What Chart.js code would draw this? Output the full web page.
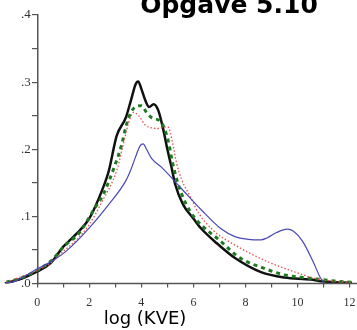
<!DOCTYPE html>
<html>
<head>
<meta charset="utf-8">
<script src="https://cdn.jsdelivr.net/npm/chart.js@4.4.1/dist/chart.umd.min.js"></script>
<style>
  html, body { margin: 0; padding: 0; background: #fff; }
  #wrap { position: relative; width: 357px; height: 330px; overflow: hidden; }
  #grafica { position: absolute; left: 0; top: 0; }
</style>
</head>
<body>
<div id="wrap"><canvas id="grafica" width="364" height="330"></canvas></div>
<script>
// ticks
const xTicks = [0, 1, 2, 3, 4, 5, 6, 7, 8, 9, 10, 11, 12];
const xLabels = ['0', '', '2', '', '4', '', '6', '', '8', '', '10', '', '12'];
const yTicks = [0, 0.05, 0.1, 0.15, 0.2, 0.25, 0.3, 0.35, 0.4];
const yLabels = ['.0', '', '.1', '', '.2', '', '.3', '', '.4'];

// serie negra (solida gruesa)
const xNegra = [-1.25, -0.5, 0, 0.5, 1, 1.5, 2, 2.5, 2.75, 3.05, 3.4, 3.6, 3.78, 3.88, 4.0, 4.15, 4.3, 4.47, 4.65, 4.84, 5.0, 5.15, 5.3, 5.6, 6.0, 6.3, 6.9, 7.6, 8.6, 9.5, 10.5, 11.0, 12.1];
const yNegra = [0, 0.009, 0.018, 0.03, 0.055, 0.074, 0.097, 0.14, 0.168, 0.22, 0.247, 0.273, 0.297, 0.301, 0.29, 0.273, 0.263, 0.267, 0.258, 0.23, 0.2, 0.175, 0.148, 0.118, 0.097, 0.082, 0.06, 0.038, 0.017, 0.009, 0.006, 0.003, 0.001];

// serie verde (rayas)
const xVerde = [-1.2, -0.5, 0, 0.5, 1.1, 1.6, 2.25, 2.5, 3.0, 3.25, 3.4, 3.6, 3.82, 4.0, 4.2, 4.4, 4.77, 5.03, 5.2, 5.4, 5.7, 6.05, 7.05, 7.8, 8.7, 9.5, 10.6, 11.4, 12.1];
const yVerde = [0.002, 0.01, 0.02, 0.033, 0.058, 0.075, 0.115, 0.13, 0.178, 0.208, 0.233, 0.255, 0.264, 0.265, 0.255, 0.247, 0.24, 0.213, 0.18, 0.15, 0.12, 0.098, 0.063, 0.038, 0.023, 0.013, 0.0075, 0.004, 0.002];

// serie roja (puntos)
const xRoja = [-1.2, 0, 0.5, 1, 1.5, 2, 2.5, 3.05, 3.25, 3.5, 3.7, 3.9, 4.15, 4.4, 4.65, 4.9, 5.03, 5.2, 5.35, 5.55, 5.9, 6.2, 6.8, 7.57, 8.83, 9.85, 10.7, 11.6, 12.1];
const yRoja = [0.002, 0.02, 0.03, 0.048, 0.065, 0.088, 0.123, 0.168, 0.198, 0.238, 0.255, 0.25, 0.236, 0.232, 0.231, 0.233, 0.233, 0.21, 0.18, 0.155, 0.128, 0.105, 0.078, 0.058, 0.033, 0.018, 0.0075, 0.003, 0.002];

// serie azul (solida fina)
const xAzul = [-1.2, -0.9, 0, 0.5, 1.1, 2, 2.75, 3.4, 3.6, 3.77, 3.95, 4.07, 4.2, 4.4, 4.78, 5.53, 6.3, 7.05, 7.6, 8.1, 8.6, 8.83, 9.2, 9.6, 9.85, 10.2, 10.6, 10.9, 11.05];
const yAzul = [0.001, 0.003, 0.022, 0.032, 0.048, 0.083, 0.118, 0.153, 0.17, 0.188, 0.205, 0.208, 0.2, 0.186, 0.173, 0.142, 0.11, 0.082, 0.07, 0.066, 0.065, 0.068, 0.076, 0.081, 0.078, 0.063, 0.033, 0.0075, 0];

function puntos(xs, ys) {
    return xs.map((x, i) => ({ x: x, y: ys[i] }));
}

const textos = {
    id: 'textos',
    afterDraw(chart) {
        const ctx = chart.ctx;
        const xs = chart.scales.x;
        const area = chart.chartArea;
        ctx.save();
        // eje x desde 0 hacia la derecha
        ctx.strokeStyle = '#555';
        ctx.lineWidth = 1.5;
        ctx.beginPath();
        ctx.moveTo(xs.getPixelForValue(0), area.bottom);
        ctx.lineTo(chart.width, area.bottom);
        ctx.stroke();
        // titulo
        ctx.fillStyle = '#000';
        ctx.textAlign = 'center';
        ctx.textBaseline = 'alphabetic';
        ctx.font = 'bold 25px "DejaVu Sans"';
        ctx.fillText('Opgave 5.10', 229, 13);
        // titulo eje x
        ctx.font = '18px "DejaVu Sans"';
        ctx.fillText('log (KVE)', 145, 324);
        ctx.restore();
    }
};

const ctx = document.getElementById('grafica').getContext('2d');
new Chart(ctx, {
    type: 'scatter',
    data: {
        datasets: [
            {
                label: 'azul',
                data: puntos(xAzul, yAzul),
                showLine: true,
                borderColor: '#4848b8',
                borderWidth: 1.2,
                pointRadius: 0,
                cubicInterpolationMode: 'monotone'
            },
            {
                label: 'roja',
                data: puntos(xRoja, yRoja),
                showLine: true,
                borderColor: '#e05050',
                borderWidth: 1.3,
                borderDash: [1.5, 2],
                pointRadius: 0,
                cubicInterpolationMode: 'monotone'
            },
            {
                label: 'verde',
                data: puntos(xVerde, yVerde),
                showLine: true,
                borderColor: '#1e7a1e',
                borderWidth: 3,
                borderDash: [4, 4],
                pointRadius: 0,
                cubicInterpolationMode: 'monotone'
            },
            {
                label: 'negra',
                data: puntos(xNegra, yNegra),
                showLine: true,
                borderColor: '#111',
                borderWidth: 2.5,
                pointRadius: 0,
                cubicInterpolationMode: 'monotone'
            }
        ]
    },
    options: {
        responsive: false,
        animation: false,
        devicePixelRatio: 1,
        layout: { padding: { left: 3.5, right: 8, top: 15, bottom: 11 } },
        plugins: {
            legend: { display: false },
            tooltip: { enabled: false },
            title: { display: false }
        },
        scales: {
            x: {
                type: 'linear',
                min: -1.3,
                max: 12.1,
                afterBuildTicks: (axis) => { axis.ticks = xTicks.map(v => ({ value: v })); },
                ticks: {
                    autoSkip: false,
                    maxRotation: 0,
                    padding: 8.5,
                    color: '#333',
                    font: { family: 'Liberation Serif', size: 12 },
                    callback: (v) => xLabels[xTicks.indexOf(v)] ?? ''
                },
                grid: { drawOnChartArea: false, drawTicks: true, tickLength: 4, color: '#555', lineWidth: 1.2 },
                border: { display: false }
            },
            y: {
                type: 'linear',
                position: { x: 0 },
                min: 0,
                max: 0.4,
                afterBuildTicks: (axis) => { axis.ticks = yTicks.map(v => ({ value: v })); },
                ticks: {
                    autoSkip: false,
                    color: '#333',
                    font: { family: 'Liberation Serif', size: 13 },
                    // el eje colocado en x=0 no aplica padding: se separa con un espacio
                    callback: (v) => {
                        const t = yLabels[yTicks.indexOf(v)] ?? '';
                        return t ? t + '\u2002' : '';
                    }
                },
                grid: { drawOnChartArea: false, drawTicks: true, tickLength: 5, color: '#555', lineWidth: 1.2 },
                border: { display: true, color: '#555', width: 1.5 }
            }
        }
    },
    plugins: [textos]
});
</script>
</body>
</html>
